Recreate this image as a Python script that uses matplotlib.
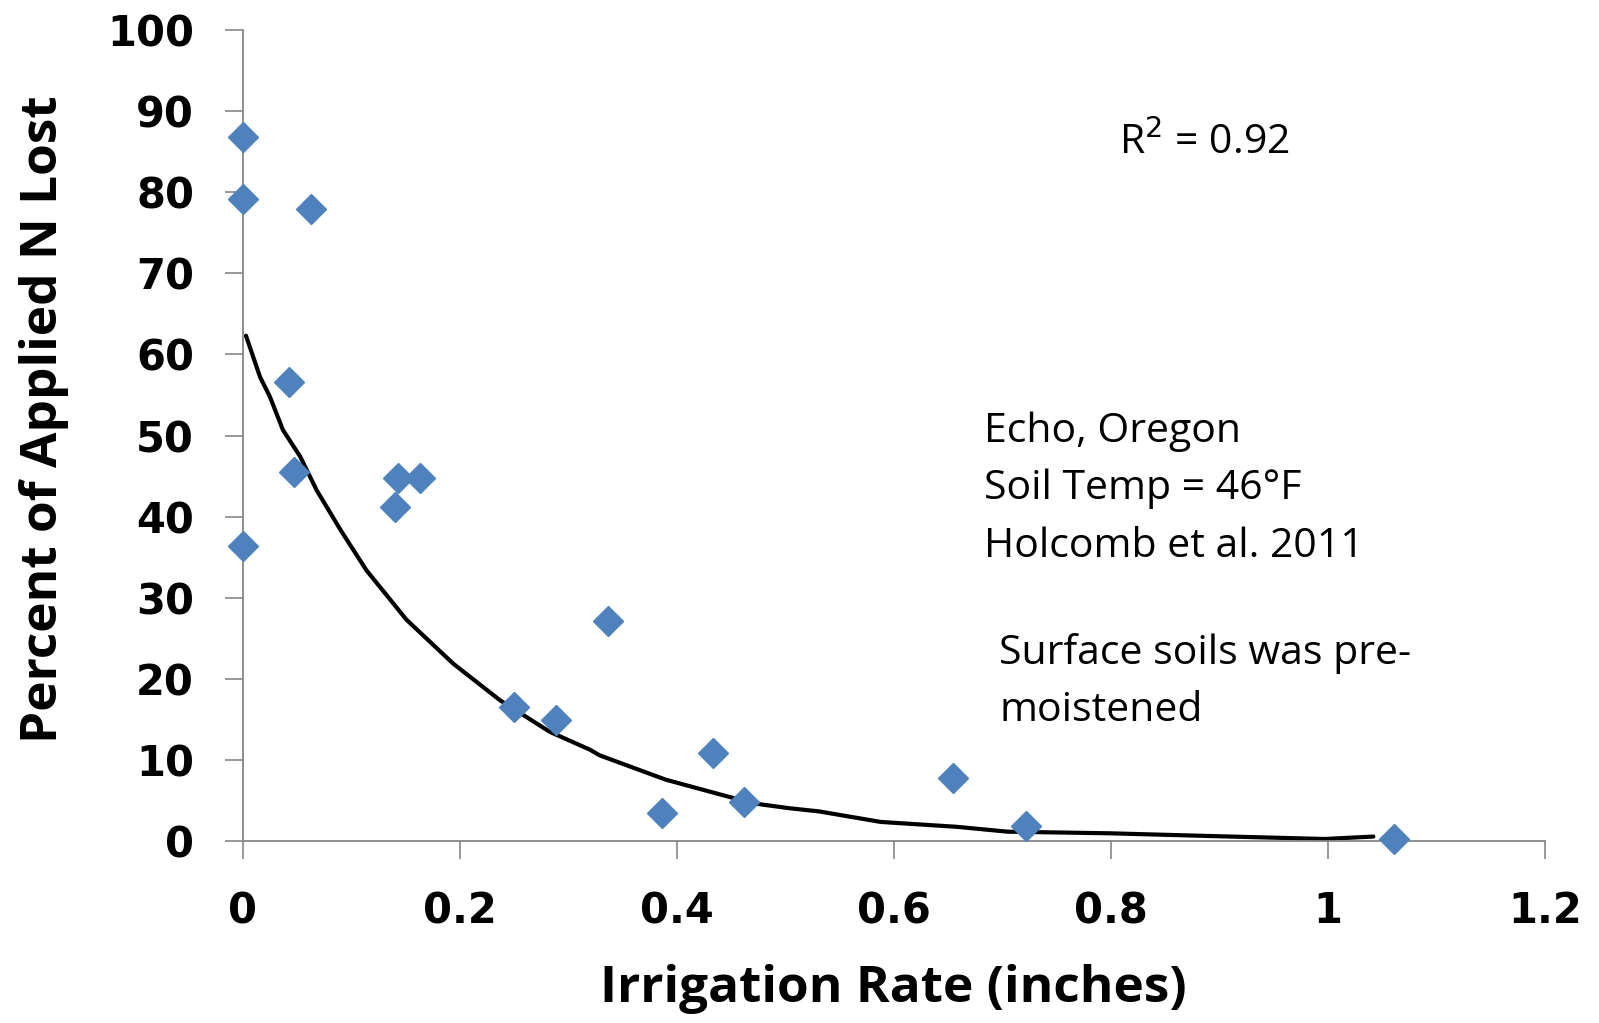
import matplotlib.pyplot as plt

# Measured N loss vs. irrigation depth
rate = [0.0, 0.0, 0.063, 0.043, 0.047, 0.0, 0.143, 0.163, 0.140, 0.250,
        0.289, 0.337, 0.386, 0.433, 0.462, 0.655, 0.722, 1.061]
n_lost = [86.8, 79.1, 77.9, 56.6, 45.5, 36.4, 44.8, 44.8, 41.2, 16.6,
          15.0, 27.2, 3.5, 10.9, 4.9, 7.8, 1.9, 0.25]

# Fitted trend line
fit_x = [0.003, 0.016, 0.025, 0.037, 0.053, 0.068, 0.090, 0.114, 0.151, 0.194,
         0.237, 0.283, 0.320, 0.329, 0.390, 0.470, 0.503, 0.531, 0.588, 0.658,
         0.705, 0.799, 0.893, 0.997, 1.042]
fit_y = [62.3, 57.2, 54.8, 50.7, 47.4, 43.3, 38.4, 33.4, 27.3, 21.9,
         17.4, 13.5, 11.3, 10.6, 7.6, 4.7, 4.1, 3.7, 2.4, 1.8,
         1.2, 1.0, 0.66, 0.3, 0.6]

x_ticks = [0, 0.2, 0.4, 0.6, 0.8, 1.0, 1.2]
x_tick_labels = ['0', '0.2', '0.4', '0.6', '0.8', '1', '1.2']
y_ticks = list(range(0, 101, 10))

fig = plt.figure(figsize=(15.99, 10.23), dpi=100)
ax = fig.add_axes([0.1518, 0.1775, 0.8143, 0.7935])

ax.plot(fit_x, fit_y, color='black', lw=3, zorder=2,
        solid_joinstyle='round', solid_capstyle='round')
ax.plot(rate, n_lost, linestyle='none', marker='D', ms=15, color='#4F81BD',
        markeredgecolor='#4F81BD', clip_on=False, zorder=3)

ax.set_xlim(0, 1.2)
ax.set_ylim(0, 100)
ax.set_xticks(x_ticks)
ax.set_xticklabels(x_tick_labels)
ax.set_yticks(y_ticks)

for side in ['top', 'right']:
    ax.spines[side].set_visible(False)
for side in ['left', 'bottom']:
    ax.spines[side].set_color('#868686')
    ax.spines[side].set_linewidth(1.3)

ax.tick_params(axis='both', direction='out', length=13, width=1.2,
               color='#868686', labelsize=30, pad=22)
for lbl in ax.get_xticklabels() + ax.get_yticklabels():
    lbl.set_fontweight('bold')
    lbl.set_family('DejaVu Sans')

ax.set_xlabel('Irrigation Rate (inches)', fontsize=37, fontweight='bold',
              family='Open Sans', va='center')
ax.xaxis.set_label_coords(0.5, -0.182)
ax.set_ylabel('Percent of Applied N Lost', fontsize=37, fontweight='bold',
              family='Open Sans', va='center')
ax.yaxis.set_label_coords(-0.153, 0.52)

note_font = dict(family='Open Sans', fontsize=29.5, color='black', va='center',
                 ha='left', transform=fig.transFigure)
fig.text(0.6996, 0.860, r'R$^{2}$ = 0.92', **note_font)
fig.text(0.6154, 0.578, 'Echo, Oregon', **note_font)
fig.text(0.6154, 0.522, 'Soil Temp = 46°F', **note_font)
fig.text(0.6154, 0.466, 'Holcomb et al. 2011', **note_font)
fig.text(0.6250, 0.361, 'Surface soils was pre-', **note_font)
fig.text(0.6250, 0.305, 'moistened', **note_font)

fig.savefig('out.png', dpi=100)
